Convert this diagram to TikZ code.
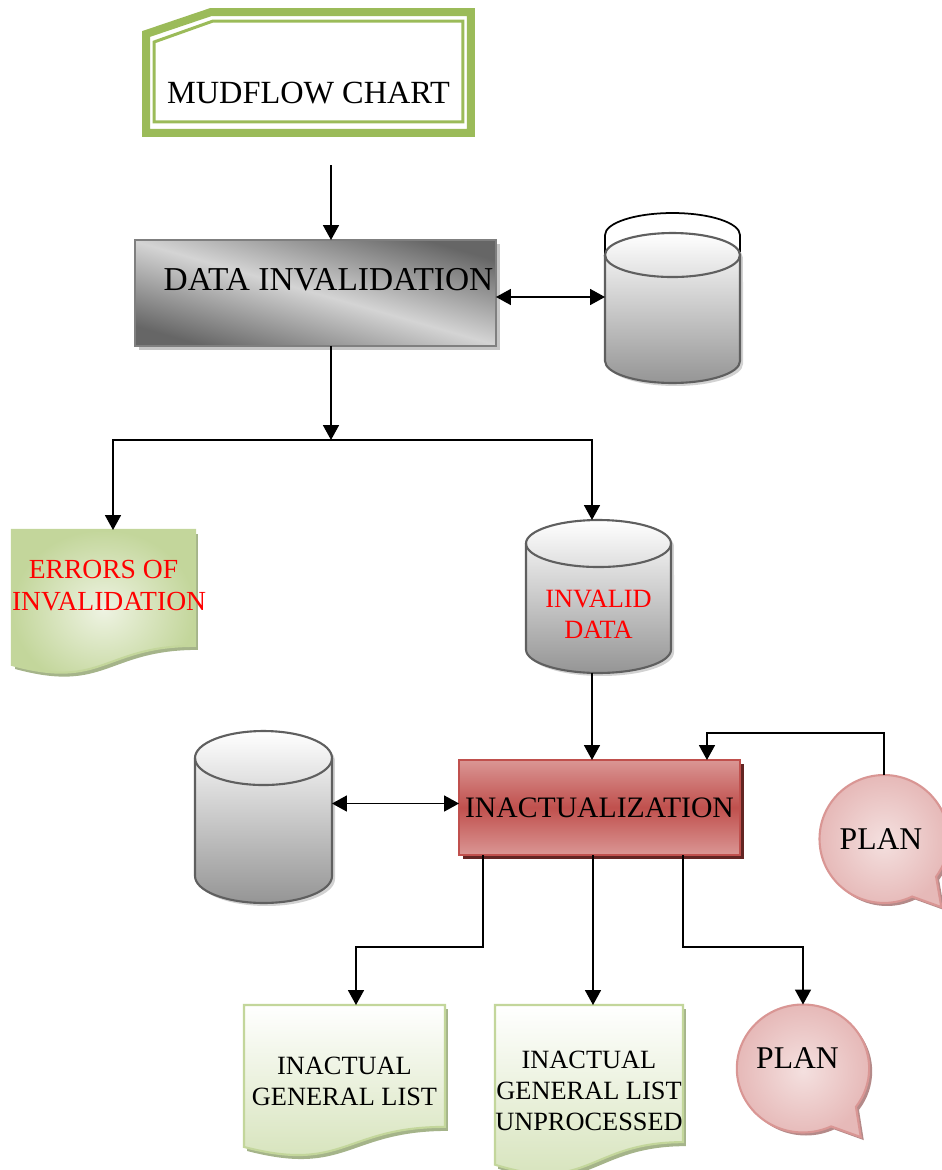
\documentclass[tikz,border=0pt]{standalone}
\usepackage{fontspec}
\setmainfont{Liberation Serif}
\usetikzlibrary{arrows.meta,shapes.callouts,shadows,calc,backgrounds}

\definecolor{mudgreen}{HTML}{9BBB59}
\definecolor{procdark}{HTML}{666666}
\definecolor{proclight}{HTML}{D4D4D4}
\definecolor{procline}{HTML}{7F7F7F}
\definecolor{cylline}{HTML}{5F5F5F}
\definecolor{cylgray}{HTML}{959595}
\definecolor{docline}{HTML}{C3D69B}
\definecolor{docgreen}{HTML}{D3E1B6}
\definecolor{docpale}{HTML}{EEF3E2}
\definecolor{docshade}{HTML}{A5B48A}
\definecolor{redlight}{HTML}{DA9694}
\definecolor{redmid}{HTML}{C0504D}
\definecolor{redshadow}{HTML}{632523}
\definecolor{pinkin}{HTML}{F4E0DF}
\definecolor{pinkout}{HTML}{E6B9B8}
\definecolor{pinkline}{HTML}{D99694}
\definecolor{pinkshade}{HTML}{B48A89}

% document outline (office style), fitted to the box of a node
\newcommand{\docpath}[1]{(#1.north west) -- (#1.north east)
  -- ($(#1.north east)!0.802!(#1.south east)$)
  .. controls ($(#1.north)!0.802!(#1.south)$) and ($(#1.north)!1.107!(#1.south)$)
  .. ($(#1.north west)!0.934!(#1.south west)$) -- cycle}
% store outline: node, x radius, y radius (in px)
\newcommand{\cylpath}[3]{($(#1.north west)+(0,#3)$) -- ($(#1.south west)+(0,-#3)$)
  arc[start angle=180,end angle=360,x radius=#2*0.02cm,y radius=#3*0.02cm]
  -- ($(#1.north east)+(0,#3)$)
  arc[start angle=0,end angle=180,x radius=#2*0.02cm,y radius=#3*0.02cm] -- cycle}
\newcommand{\cyltop}[3]{($(#1.north west)+(0,#3)$)
  arc[start angle=180,end angle=360,x radius=#2*0.02cm,y radius=#3*0.02cm]}

\begin{document}
\begin{tikzpicture}[x=0.02cm,y=-0.02cm,line width=1pt,>={Triangle[length=0.3cm,width=0.32cm]}]
	\tikzstyle{PR}=[rectangle,inner sep=0pt,outer sep=0pt,font=\fontsize{19pt}{22pt}\selectfont]
	\tikzstyle{DB}=[rectangle,inner sep=0pt,outer sep=0pt,align=center,font=\fontsize{15pt}{17.6pt}\selectfont]
	\tikzstyle{DBSHAPE}=[draw=cylline,line width=1.2pt,top color=white,bottom color=cylgray,
	                     drop shadow={shadow xshift=0.06cm,shadow yshift=-0.06cm,fill=gray!35,opacity=1}]
	\tikzstyle{DOC}=[rectangle,inner sep=0pt,outer sep=0pt,align=center,font=\fontsize{15pt}{17.6pt}\selectfont]
	\tikzstyle{DOCSHAPE}=[draw=docline,line width=1.2pt,top color=white,bottom color=docgreen,
	                      drop shadow={shadow xshift=0.06cm,shadow yshift=-0.08cm,fill=docshade,opacity=1}]
	\tikzstyle{PL}=[ellipse callout,callout pointer arc=28,callout relative pointer={(0.32cm,-0.38cm)},
	                draw=pinkline,line width=1.2pt,inner color=pinkin,outer color=pinkout,inner sep=0pt,outer sep=0pt,
	                minimum width=2.58cm,minimum height=2.56cm,font=\fontsize{18pt}{21pt}\selectfont,
	                drop shadow={shadow xshift=0.06cm,shadow yshift=-0.06cm,fill=pinkshade,opacity=1}]
	\useasboundingbox (0,0) rectangle (941,1170);

	\node[PR,minimum width=6.5cm,minimum height=2.42cm,text height=1.36cm,text depth=0.1cm,
	      font=\fontsize{18.4pt}{21pt}\selectfont] (mud) at (308.5,72.5) {MUDFLOW CHART};
	\node[PR,minimum width=7.22cm,minimum height=2.12cm,text height=0.45cm,text depth=0.57cm,
	      draw=procline,line width=1.2pt,top color=procdark,bottom color=procdark,middle color=proclight,shading angle=-16,
	      drop shadow={shadow xshift=0.08cm,shadow yshift=-0.08cm,fill=gray!45,opacity=1}] (inval) at (315.5,293) {\hspace*{0.52cm}DATA INVALIDATION};
	\node[DB,minimum width=2.7cm,minimum height=3.0cm] (db-1) at (672.5,308) {};
	\node[DOC,minimum width=3.66cm,minimum height=2.89cm,text=red,text height=0.45cm,text depth=0.14cm,
	      font=\fontsize{15.7pt}{18.2pt}\selectfont] (errors) at (103.5,602.25) {ERRORS OF\\\makebox[3.66cm][l]{INVALIDATION}};
	\node[DB,minimum width=2.9cm,minimum height=3.06cm,text=red,text height=1.8cm,text depth=0.14cm] (invdata) at (598.5,596.5) {INVALID\\DATA};
	\node[DB,minimum width=2.74cm,minimum height=3.44cm] (db-2) at (263.5,817) {};
	\node[PR,minimum width=5.62cm,minimum height=1.9cm,font=\fontsize{16.9pt}{20pt}\selectfont,
	      draw=redmid,line width=1.2pt,top color=redlight,bottom color=redlight,middle color=redmid,
	      drop shadow={shadow xshift=0.08cm,shadow yshift=-0.08cm,fill=redshadow,opacity=1}] (inact) at (599.5,807.5) {INACTUALIZATION};
	\node[PL] (plan-1) at (884,839) {PLAN\hspace*{0.12cm}};
	\node[DOC,minimum width=4.02cm,minimum height=3.04cm] (list-1) at (344.5,1081) {INACTUAL\\GENERAL LIST};
	\node[DOC,minimum width=3.76cm,minimum height=3.42cm] (list-2) at (589,1090.5) {INACTUAL\\GENERAL LIST\\UNPROCESSED};
	\node[PL,text height=0.45cm,text depth=0.45cm] (plan-2) at (803,1068.5) {PLAN\hspace*{0.22cm}};

	\begin{scope}[on background layer]
	% title frame
	\draw[mudgreen,line width=0.16cm] ($(mud.north west)+(0,22)$) -- ($(mud.north west)+(65,0)$) -- (mud.north east)
	     -- (mud.south east) -- (mud.south west) -- cycle;
	\draw[mudgreen,line width=0.06cm] ($(mud.north west)+(8,30)$) -- ($(mud.north west)+(67,9)$) -- ($(mud.north east)+(-8,9)$)
	     -- ($(mud.south east)+(-8,-11)$) -- ($(mud.south west)+(8,-11)$) -- cycle;
	% documents
	\path[DOCSHAPE,inner color=docpale,outer color=docline] \docpath{errors};
	\path[DOCSHAPE] \docpath{list-1};
	\path[DOCSHAPE] \docpath{list-2};
	% stores, the upper one with its lid
	\draw[line width=1pt] ($(db-1.north west)+(0,22)$) -- ++(0,-20)
	     arc[start angle=180,end angle=0,x radius=1.35cm,y radius=0.44cm] -- ++(0,20);
	\path[DBSHAPE] \cylpath{db-1}{67.5}{22};
	\draw[cylline,line width=1.2pt] \cyltop{db-1}{67.5}{22};
	\path[DBSHAPE] \cylpath{invdata}{72.5}{23.5};
	\draw[cylline,line width=1.2pt] \cyltop{invdata}{72.5}{23.5};
	\path[DBSHAPE] \cylpath{db-2}{68.5}{27};
	\draw[cylline,line width=1.2pt] \cyltop{db-2}{68.5}{27};
	\end{scope}

	\coordinate (c-1) at (331,165);
	\coordinate (split) at (331,440);
	\path[->]
	(c-1) edge (c-1 |- inval.north)
	(split |- inval.south) edge (split)
	([xshift=-0.13cm]invdata.south) edge ([xshift=-0.13cm]invdata.south |- inact.north)
	([xshift=-0.13cm]inact.south) edge ([xshift=-0.13cm]inact.south |- list-2.north)
	;
	\draw[<->] ([yshift=-0.08cm]inval.east) -- ([yshift=-0.08cm]inval.east -| db-1.west);
	\draw[<->] ([yshift=0.08cm]inact.west) -- ([yshift=0.08cm]inact.west -| db-2.east);
	\draw[->] (split) -| ([xshift=0.19cm]errors.north);
	\draw[->] (split) -| ([xshift=-0.13cm]invdata.north);
	\draw[->] (plan-1.north) -- ++(0,-42) -| ([xshift=2.15cm]inact.north);
	\draw[->] ([xshift=-2.33cm]inact.south) -- ++(0,92) -| ([xshift=0.23cm]list-1.north);
	\draw[->] ([xshift=1.67cm]inact.south) -- ++(0,92) -| (plan-2.north);
\end{tikzpicture}
\end{document}
